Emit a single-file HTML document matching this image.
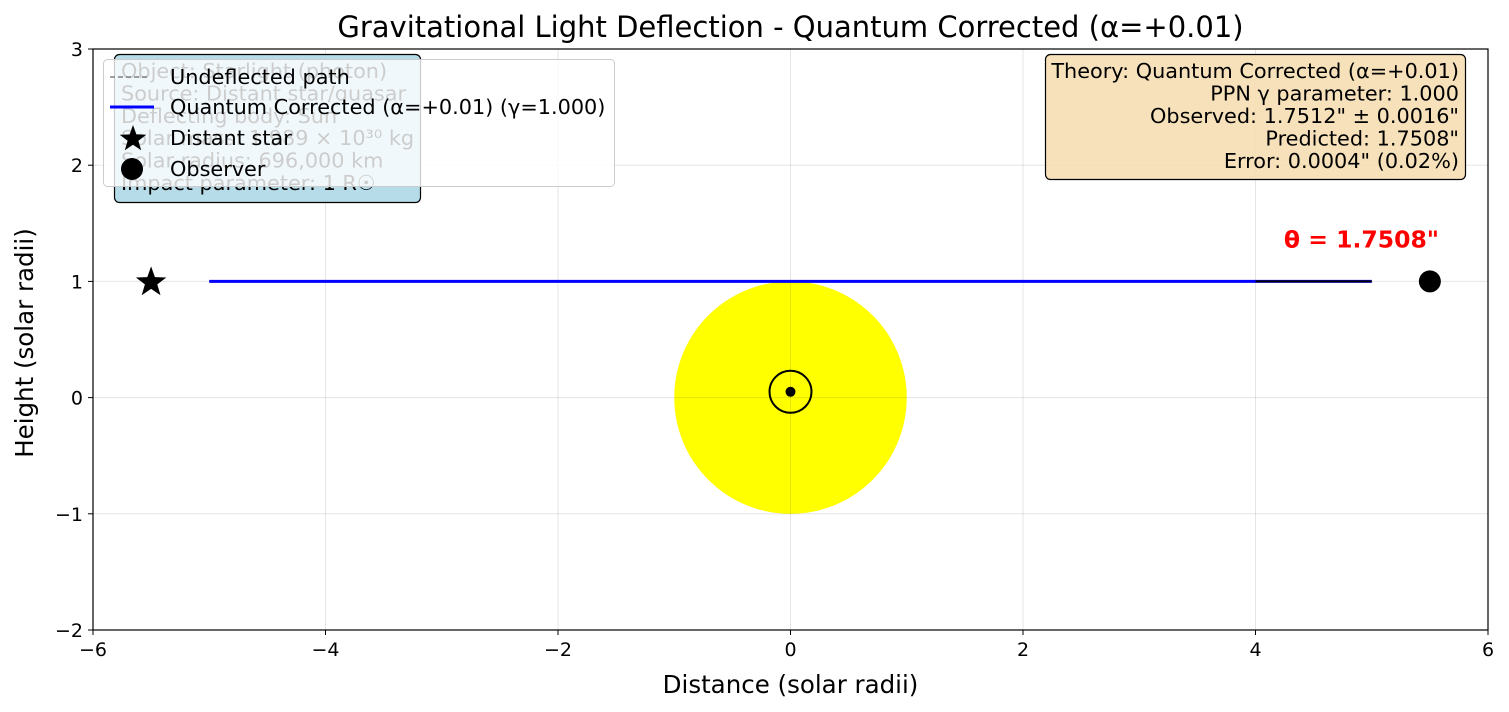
<!DOCTYPE html>
<html><head><meta charset="utf-8"><style>
body{margin:0;background:#fff;}
svg{display:block;font-family:"DejaVu Sans","Liberation Sans",sans-serif;}
</style></head><body>
<svg id="c" width="1509" height="712"></svg>
<script>
const xTicks=[-6,-4,-2,0,2,4,6];
const yTicks=[-2,-1,0,1,2,3];
const xTickLabels=["−6","−4","−2","0","2","4","6"];
const yTickLabels=["−2","−1","0","1","2","3"];
const pathX=[-5,5];
const pathY=[1,1];
const deflX=[4,5];
const deflY=[1,1];
const starPos=[-5.5,1];
const observerPos=[5.5,1];
const sunCenter=[0,0];
const sunRadius=1;
const deflectionLabel="θ = 1.7508\"";
const infoLines=["Object: Starlight (photon)","Source: Distant star/quasar","Deflecting body: Sun","Solar mass: 1.989 × 10³⁰ kg","Solar radius: 696,000 km","Impact parameter: 1 R☉"];
const theoryLines=["Theory: Quantum Corrected (α=+0.01)","PPN γ parameter: 1.000","Observed: 1.7512\" ± 0.0016\"","Predicted: 1.7508\"","Error: 0.0004\" (0.02%)"];

const L=93,R=1488,T=49,B=630;
const X=v=>L+(v+6)/12*(R-L);
const Y=v=>B-(v+2)/5*(B-T);
const svg=document.getElementById('c');
const NS='http://www.w3.org/2000/svg';
function mk(tag,at,txt){const e=document.createElementNS(NS,tag);for(const k in at)e.setAttribute(k,at[k]);if(txt!=null)e.textContent=txt;svg.appendChild(e);return e;}
let e;
e=mk('circle',{cx:X(sunCenter[0]),cy:Y(sunCenter[1]),r:X(sunRadius)-X(0),fill:'#ffff00'});


xTicks.forEach(v=>{const g=mk('line',{x1:X(v),x2:X(v),y1:T,y2:B,stroke:'#000','stroke-opacity':0.1,'stroke-width':1});

});
yTicks.forEach(v=>{const g=mk('line',{x1:L,x2:R,y1:Y(v),y2:Y(v),stroke:'#000','stroke-opacity':0.1,'stroke-width':1});

});
e=mk('circle',{cx:X(0),cy:Y(0.05),r:21,fill:'none',stroke:'#000','stroke-width':2});


e=mk('circle',{cx:X(0),cy:Y(0.05),r:5,fill:'#000'});


e=mk('line',{x1:X(pathX[0]),x2:X(pathX[1]),y1:Y(pathY[0]),y2:Y(pathY[1]),stroke:'#808080','stroke-dasharray':'5,3','stroke-width':1.5});


e=mk('line',{x1:X(pathX[0]),x2:X(pathX[1]),y1:Y(pathY[0]),y2:Y(pathY[1]),stroke:'#0000ff','stroke-width':3});


e=mk('line',{x1:X(deflX[0]),x2:X(deflX[1]),y1:Y(deflY[0]),y2:Y(deflY[1]),stroke:'#000','stroke-width':2});


function starPts(cx,cy,ro,ri){let p=[];for(let i=0;i<10;i++){const a=-Math.PI/2+i*Math.PI/5;const r=i%2?ri:ro;p.push((cx+r*Math.cos(a)).toFixed(1)+','+(cy+r*Math.sin(a)).toFixed(1));}return p.join(' ');}
e=mk('polygon',{points:starPts(X(starPos[0]),Y(starPos[1])+1,16,6.5),fill:'#000'});


e=mk('circle',{cx:X(observerPos[0]),cy:Y(observerPos[1]),r:11,fill:'#000'});


e=mk('text',{x:X(4.8)+13,y:Y(1.3)+1,'text-anchor':'middle','font-size':23.5,'font-weight':'bold',fill:'#ff0000'},deflectionLabel);


e=mk('rect',{x:L,y:T,width:R-L,height:B-T,fill:'none',stroke:'#000','stroke-width':1.2});


xTicks.forEach((v,i)=>{mk('line',{x1:X(v),x2:X(v),y1:B,y2:B+5,stroke:'#000'});
const t=mk('text',{x:X(v),y:B+26,'text-anchor':'middle','font-size':19},xTickLabels[i]);

});
yTicks.forEach((v,i)=>{mk('line',{x1:L-5,x2:L,y1:Y(v),y2:Y(v),stroke:'#000'});
const t=mk('text',{x:L-10,y:Y(v)+7,'text-anchor':'end','font-size':19},yTickLabels[i]);

});
e=mk('text',{x:(L+R)/2,y:693,'text-anchor':'middle','font-size':24.5},'Distance (solar radii)');


e=mk('text',{x:33,y:343,'text-anchor':'middle','font-size':24.5,transform:'rotate(-90 33 343)'},'Height (solar radii)');


e=mk('text',{x:(L+R)/2,y:37,'text-anchor':'middle','font-size':29},'Gravitational Light Deflection - Quantum Corrected (α=+0.01)');


e=mk('rect',{x:114.5,y:54.5,width:306,height:148,rx:5,fill:'#add8e6','fill-opacity':0.9,stroke:'#000','stroke-width':1.2});


infoLines.forEach((s,i)=>{const t=mk('text',{x:121,y:78+i*22.4,'font-size':20.8},s);

});
e=mk('rect',{x:1045.5,y:54.5,width:420,height:125,rx:5,fill:'#f5deb3','fill-opacity':0.9,stroke:'#000','stroke-width':1.2});


theoryLines.forEach((s,i)=>{const t=mk('text',{x:1459,y:78+i*22.5,'font-size':20.8,'text-anchor':'end'},s);

});
e=mk('rect',{x:103.5,y:59.5,width:511,height:127,rx:4,fill:'#fff','fill-opacity':0.8,stroke:'#ccc','stroke-width':1});


const ly=[77,107,138,169];
e=mk('line',{x1:110,x2:150,y1:ly[0],y2:ly[0],stroke:'#808080','stroke-dasharray':'5,3','stroke-width':1.5});


e=mk('line',{x1:110,x2:154,y1:ly[1],y2:ly[1],stroke:'#0000ff','stroke-width':3});


e=mk('polygon',{points:starPts(133,ly[2]+1,14,5.7),fill:'#000'});


e=mk('circle',{cx:132,cy:ly[3],r:11,fill:'#000'});


["Undeflected path","Quantum Corrected (α=+0.01) (γ=1.000)","Distant star","Observer"].forEach((s,i)=>{const t=mk('text',{x:170,y:ly[i]+7,'font-size':20.8},s);

});
</script>
</body></html>
